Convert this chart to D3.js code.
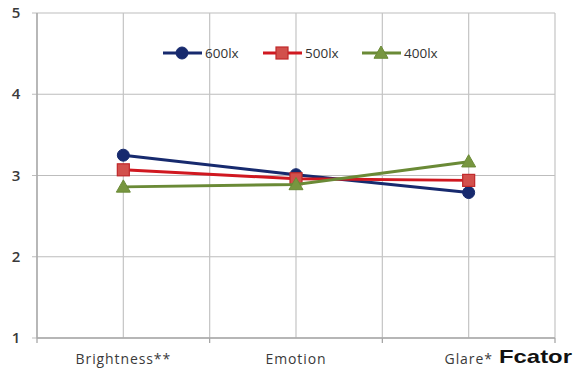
<!DOCTYPE html>
<html>
<head>
<meta charset="utf-8">
<script src="https://cdn.jsdelivr.net/npm/d3@7"></script>
<style>
  html, body { margin: 0; padding: 0; background: #fff; }
  svg { display: block; }
</style>
</head>
<body>
<svg id="chart" width="574" height="368"></svg>
<script>
// Mean ratings per factor at three illuminance levels
const categories = ["Brightness**", "Emotion", "Glare*"];
const seriesNames = ["600lx", "500lx", "400lx"];
const values600 = [3.25, 3.01, 2.79];
const values500 = [3.07, 2.96, 2.94];
const values400 = [2.86, 2.89, 3.17];
const yTicks = [1, 2, 3, 4, 5];
const axisTitle = "Fcator";

const series = [
  { name: seriesNames[0], values: values600, color: "#172a6e", marker: "circle" },
  { name: seriesNames[1], values: values500, color: "#d01820", marker: "square" },
  { name: seriesNames[2], values: values400, color: "#6a8a36", marker: "triangle" }
];

const svg = d3.select("#chart");
const plot = { left: 37, right: 555, top: 13, bottom: 338 };

const x = d3.scaleBand().domain(categories).range([plot.left, plot.right]).padding(0);
const y = d3.scaleLinear().domain([1, 5]).range([plot.bottom, plot.top]);
const cx = c => x(c) + x.bandwidth() / 2;

// Horizontal gridlines with small ticks left of the axis
svg.append("g").selectAll("line").data(yTicks).join("line")
  .attr("x1", plot.left - 5).attr("x2", plot.right)
  .attr("y1", d => y(d)).attr("y2", d => y(d))
  .attr("stroke", "#bdbdbd").attr("stroke-width", 1.2);

// Vertical gridlines at category boundaries and centres
const vLines = [plot.left].concat(categories.flatMap(c => [cx(c), x(c) + x.bandwidth()]));
svg.append("g").selectAll("line").data(vLines).join("line")
  .attr("x1", d => d).attr("x2", d => d)
  .attr("y1", plot.top).attr("y2", plot.bottom)
  .attr("stroke", "#c4c4c4").attr("stroke-width", 1.2);

// Left axis line
svg.append("line")
  .attr("x1", plot.left).attr("x2", plot.left)
  .attr("y1", plot.top).attr("y2", plot.bottom)
  .attr("stroke", "#a8a8a8").attr("stroke-width", 1.4);

// Category tick marks below the axis
svg.append("g").selectAll("line")
  .data([plot.left].concat(categories.map(c => x(c) + x.bandwidth())))
  .join("line")
  .attr("x1", d => d).attr("x2", d => d)
  .attr("y1", plot.bottom).attr("y2", plot.bottom + 5)
  .attr("stroke", "#a0a0a0").attr("stroke-width", 1.2);

// Bottom axis line
svg.append("line")
  .attr("x1", plot.left).attr("x2", plot.right)
  .attr("y1", plot.bottom).attr("y2", plot.bottom)
  .attr("stroke", "#a8a8a8").attr("stroke-width", 1.4);

// Y tick labels
svg.append("g").selectAll("text").data(yTicks).join("text")
  .attr("x", 16).attr("y", d => y(d) + 5)
  .attr("text-anchor", "middle")
  .attr("font-family", "Open Sans, sans-serif").attr("font-size", 15)
  .attr("font-weight", 600)
  .attr("fill", "#3a3a3a").text(d => d);

// Category labels
svg.append("g").selectAll("text").data(categories).join("text")
  .attr("x", d => cx(d)).attr("y", 364)
  .attr("text-anchor", "middle")
  .attr("font-family", "Open Sans, sans-serif").attr("font-size", 14)
  .attr("letter-spacing", 0.9)
  .attr("fill", "#3a3a3a").text(d => d);

// Axis title, slightly widened bold face
svg.append("text")
  .attr("x", 499).attr("y", 363)
  .attr("textLength", 73)
  .attr("lengthAdjust", "spacingAndGlyphs")
  .attr("font-family", "Liberation Sans, Arial, sans-serif")
  .attr("font-weight", "bold").attr("font-size", 19)
  .attr("fill", "#111").text(axisTitle);

function drawMarker(g, type, color, px, py) {
  if (type === "circle") {
    g.append("circle").attr("cx", px).attr("cy", py).attr("r", 6)
      .attr("fill", color).attr("stroke", color);
  } else if (type === "square") {
    g.append("rect").attr("x", px - 6).attr("y", py - 6).attr("width", 12).attr("height", 12)
      .attr("fill", "#d2504c").attr("stroke", "#c0282a").attr("stroke-width", 1.2);
  } else {
    const s = 7;
    g.append("path")
      .attr("d", `M${px},${py - s}L${px + s},${py + s * 0.75}L${px - s},${py + s * 0.75}Z`)
      .attr("fill", "#77963f").attr("stroke", "#6a8a36").attr("stroke-width", 1);
  }
}

const line = d3.line().x((d, i) => cx(categories[i])).y(d => y(d));

series.forEach(s => {
  const g = svg.append("g");
  g.append("path").datum(s.values)
    .attr("d", line).attr("fill", "none")
    .attr("stroke", s.color).attr("stroke-width", 3);
  s.values.forEach((v, i) => drawMarker(g, s.marker, s.color, cx(categories[i]), y(v)));
});

// Legend
const legendX = [163, 263, 362];
const legendY = 53;
series.forEach((s, i) => {
  const g = svg.append("g");
  const x0 = legendX[i];
  g.append("line").attr("x1", x0).attr("x2", x0 + 39)
    .attr("y1", legendY).attr("y2", legendY)
    .attr("stroke", s.color).attr("stroke-width", 3);
  drawMarker(g, s.marker, s.color, x0 + 19, legendY);
  g.append("text").attr("x", x0 + 42).attr("y", legendY + 5)
    .attr("font-family", "Open Sans, sans-serif").attr("font-size", 13.5)
    .attr("fill", "#333").text(s.name);
});
</script>
</body>
</html>
